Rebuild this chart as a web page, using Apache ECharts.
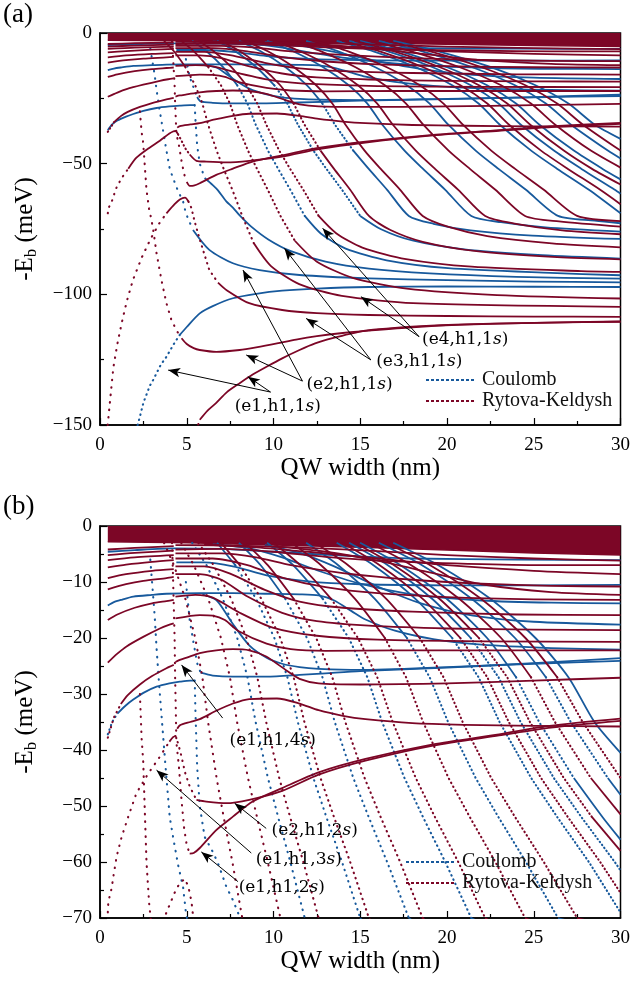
<!DOCTYPE html>
<html><head><meta charset="utf-8">
<script src="https://cdn.jsdelivr.net/npm/echarts/dist/echarts.min.js"></script>
<style>html,body{margin:0;padding:0;background:#fff}#chart{width:633px;height:981px}</style>
</head><body><div id="chart"></div>
<script>
// ---------------- DATA (QW width nm, -Eb meV) ----------------
// dense band of high states near 0
const band = [[0.45,-2.8],[5,-3.0],[10,-3.4],[15,-3.8],[20,-4.3],[25,-4.8],[30,-5.2]];

// Coulomb curves
const cE1H1_1s = [[2.1,-152],[2.17,-150],[2.3,-146.8],[2.5,-141.5],[2.87,-135],[3.06,-132.8],[3.5,-127],[3.83,-123.9],[4.3,-118.5],[4.6,-115.5],[5.0,-112.5],[5.75,-107.3],[6.5,-104.5],[7.66,-101.5],[9.0,-99.8],[10.5,-98.6],[12.5,-97.8],[15.5,-97.2],[20,-97],[25,-97.1],[30,-97.2]];
const cE2H1_1s = [[2.9,-6],[3.0,-10],[3.1,-14],[3.16,-16.5],[3.26,-21.8],[3.4,-28],[3.6,-36],[3.83,-45],[4.02,-52],[4.21,-55.5],[4.5,-60.5],[4.79,-64.5],[4.95,-69],[5.36,-75.4],[6.3,-83],[7.66,-88.1],[9.2,-90.7],[11.5,-92.6],[15.5,-93.9],[20,-94.6],[25,-95.1],[30,-95.4]];
const cLow37 = [[0.45,-37.2],[0.7,-35],[1.0,-33.5],[1.5,-32],[1.92,-31],[2.5,-29.8],[3.26,-28.7],[4.0,-28.1],[4.6,-27.8],[5.2,-27.6],[5.46,-27.6],[5.5,-33],[5.6,-43],[5.75,-50],[6.03,-55.5],[6.5,-58.2],[6.8,-60.2],[7.28,-64.4],[7.66,-66.8],[8.05,-69.8],[8.7,-74],[9.7,-79],[11,-83.5],[13,-87.5],[15.5,-90.2],[19,-92],[24,-93.3],[30,-94]];
const cFlat26 = [[4.95,-10],[5.05,-13],[5.17,-16.8],[5.4,-21],[5.6,-24.5],[5.8,-26.2],[6.5,-26.7],[7.66,-26.9],[9.6,-26.9],[11.5,-26.6],[13,-26.3],[15,-25.9],[20,-25.3],[25,-24.5],[30,-23.6]];
const cFlat12 = [[0.45,-14.2],[0.8,-13.6],[1.2,-13.2],[1.92,-12.6],[3,-12.3],[3.83,-12.1],[5.75,-12],[7.66,-12],[9.6,-12.1],[11.5,-12.2],[12.6,-12.4],[13.5,-13.3],[14.5,-15.2],[15.3,-16.7],[17,-18.7],[19.2,-20.2],[22,-21.2],[26,-21.8],[30,-22.1]];
const cDrop25 = [[5.9,-12.2],[6.7,-13.2],[7.2,-15.3],[7.66,-17.5],[8.6,-21.3],[9.6,-23.5],[10.5,-24.6],[11.5,-25.2],[12.6,-25.5],[15,-25.7],[20,-25.2],[25,-24.6],[30,-24.1]];
const cTop5 = [[0.45,-4.6],[2,-4.3],[4.3,-4.0],[7,-4.1],[10,-4.6],[14,-5.3],[18,-5.8],[24,-6.0],[30,-6.1]];
const cTop7 = [[4.4,-6.5],[6,-6.5],[7.66,-7.2],[9.6,-8.8],[12,-9.9],[15,-10.4],[20,-10.6],[25,-10.6],[30,-10.5]];
const cTop14 = [[6.5,-3.3],[8.5,-3.9],[10.5,-5.6],[12.5,-7.9],[15,-10.3],[18,-12.2],[22,-13.3],[26,-13.7],[30,-13.8]];
const cTop17 = [[9.5,-3.4],[11.5,-4.8],[13.5,-7.2],[16,-10.8],[18.5,-13.8],[21.5,-16],[25,-17.1],[30,-17.6]];
const cDesc1 = [[5.31,-3],[6.14,-7],[7.08,-13],[7.91,-20],[8.5,-27],[8.97,-35],[9.68,-45],[10.27,-52],[10.97,-60],[11.8,-70],[12.74,-76.8],[14.16,-82.5],[16.52,-87],[20.06,-90],[25.96,-91.8],[30,-92.7]];
const cDesc2 = [[6.75,-3],[7.8,-7],[9.0,-13],[10.05,-20],[10.8,-27],[11.4,-35],[12.3,-45],[13.05,-52],[13.95,-60],[15.0,-70],[16.2,-75.1],[18.0,-79.4],[21.0,-82.8],[25.5,-85.0],[30,-86.3]];
const cDesc3 = [[8.01,-3],[9.26,-7],[10.68,-13],[11.93,-20],[12.82,-27],[13.53,-35],[14.6,-45],[15.49,-52],[16.55,-60],[17.8,-70],[19.22,-73],[21.36,-75.5],[24.92,-77.5],[30,-78.8]];
const cDesc4 = [[9.63,-3],[11.13,-7],[12.84,-13],[14.34,-20],[15.41,-27],[16.26,-35],[17.55,-45],[18.62,-52],[19.9,-60],[21.4,-70],[23.11,-72.4],[25.68,-74.4],[30,-76]];
const cDesc5 = [[11.88,-3],[13.73,-7],[15.84,-13],[17.69,-20],[19.0,-27],[20.06,-35],[21.65,-45],[22.97,-52],[24.55,-60],[26.4,-70],[28.51,-71.8],[30,-72.8]];
const cDesc6 = [[13.64,-3],[15.76,-7],[18.18,-13],[20.3,-20],[21.82,-27],[23.03,-35],[24.85,-45],[26.36,-52],[28.18,-60],[30,-69]];
const cDesc7 = [[14.36,-3],[16.59,-7],[19.14,-13],[21.37,-20],[22.97,-27],[24.24,-35],[26.16,-45],[27.75,-52],[29.67,-60],[30,-61.5]];
const cDesc8 = [[14.99,-3],[17.32,-7],[19.98,-13],[22.31,-20],[23.98,-27],[25.31,-35],[27.31,-45],[28.97,-52],[30,-56]];
const cDesc9 = [[16.07,-3],[18.56,-7],[21.42,-13],[23.92,-20],[25.7,-27],[27.13,-35],[29.27,-45],[30,-48]];
const cDesc10 = [[16.9,-3],[19.5,-7],[22.5,-13],[25.1,-20],[27.0,-27],[28.5,-35],[30,-40.5]];

// Rytova-Keldysh curves
const rPeak = [[0.44,-150],[0.48,-147.5],[0.62,-138],[0.77,-128],[1.0,-119],[1.25,-111],[1.55,-102.5],[1.9,-94.5],[2.4,-86],[2.9,-79],[3.4,-73],[3.83,-69],[4.3,-65.5],[4.6,-63.7],[4.9,-63],[5.1,-64.5],[5.27,-67],[5.45,-72],[5.75,-79],[6.3,-90.7],[6.8,-95.5],[7.3,-98.4],[8.6,-103.4],[10.5,-106],[12.5,-107.2],[15.5,-107.9],[20,-108.3],[25,-108.5],[30,-108.6]];
const rE1H1_1s = [[5.55,-152],[5.75,-148],[6.2,-144.5],[6.7,-141.5],[7.3,-137.5],[8.05,-134],[8.8,-130.7],[9.6,-127.7],[10.5,-124.5],[11.5,-121.3],[12.4,-118.8],[13.4,-116.8],[14.4,-115.1],[15.5,-113.7],[17,-112.8],[18.8,-112.1],[20.5,-111.6],[22.6,-111.2],[26,-110.8],[30,-110.5]];
const rE2H1_1s = [[2.3,-30],[2.4,-38],[2.49,-42],[2.59,-51.6],[2.68,-60],[2.83,-67.3],[2.95,-71],[3.07,-75.4],[3.26,-84.3],[3.54,-94.5],[3.83,-103.4],[4.1,-109.5],[4.4,-113.7],[4.7,-116.8],[5.0,-119],[5.4,-120.6],[5.75,-121.3],[6.7,-122],[8.05,-121.3],[9,-120.3],[10.2,-118.8],[11.3,-117.3],[12.5,-116],[14,-114.8],[15.5,-113.9],[18,-112.6],[21,-111.6],[25,-110.9],[30,-110.4]];
const rE1H1_3s = [[0.45,-69],[0.48,-67.1],[0.67,-64.7],[0.77,-62.6],[0.96,-59],[1.25,-55.5],[1.63,-51.9],[2.1,-47.7],[2.78,-44.2],[3.45,-41.2],[4.0,-38.5],[4.21,-37.7],[4.35,-37.5],[4.5,-38.8],[4.7,-41.2],[4.9,-44],[5.17,-46.5],[5.56,-48.9],[6.13,-49.2],[7.28,-49.5],[8.6,-48.9],[10.5,-47.3],[12.6,-44.4],[15.3,-41.9],[19.2,-39.2],[23,-37.4],[26,-36],[30,-34.8]];
const rE1H1_2s = [[4.15,-3],[4.2,-8],[4.25,-14],[4.3,-20],[4.33,-27],[4.37,-33],[4.4,-38.5],[4.55,-43],[4.7,-49],[4.85,-54],[5.0,-57],[5.17,-58.5],[5.4,-58.4],[5.75,-57.5],[6.7,-54.3],[7.66,-51.9],[8.8,-49.2],[10.5,-46.8],[12.6,-44],[15.3,-41.6],[19.2,-39],[23,-37.2],[25.9,-35.7],[30,-34.4]];
const rE1H1_4s = [[4.35,-24.3],[4.6,-23.9],[5,-23.5],[5.75,-22.7],[6.7,-22.2],[7.66,-22],[8.6,-22.2],[9.58,-23.3],[10.7,-25.7],[11.5,-27.3],[12.6,-28.1],[15,-28.3],[20,-28.1],[25,-27.6],[30,-27.1]];
const rMid36 = [[4.45,-36.2],[4.6,-35.6],[5.2,-35],[5.75,-34.5],[6.7,-33],[7.66,-31.7],[8.6,-30.9],[10.2,-30.8],[11.5,-31.7],[12.6,-32.9],[14,-33.9],[15.3,-34.5],[18,-35.2],[21,-35.5],[25,-35.7],[30,-35.8]];
const rLeft4 = [[0.45,-4.2],[2,-3.9],[4.25,-3.6]];
const rLeft5 = [[0.45,-5.2],[2,-4.8],[4.25,-4.4]];
const rLeft6 = [[0.45,-6.1],[2,-5.6],[4.25,-5.2]];
const rLeft7 = [[0.45,-7.4],[1.5,-6.9],[3,-6.4],[4.25,-6.1]];
const rLeft9 = [[0.45,-9.3],[1.5,-8.6],[3,-8.0],[4.25,-7.7]];
const rLeft11 = [[0.45,-11.3],[1.5,-10.4],[2.5,-9.8],[3.83,-9.3],[4.25,-9.1]];
const rLeft17 = [[0.45,-16.8],[1,-15.8],[2,-14.6],[3,-13.8],[3.83,-13.4],[4.25,-13.2]];
const rLeft24 = [[0.45,-24.4],[1,-22.8],[1.53,-21.5],[2.49,-19.8],[3.45,-18.3],[3.93,-17.7],[4.25,-17.4]];
const rLeft37 = [[0.45,-37.8],[0.8,-34.2],[1.2,-31.8],[1.6,-30.2],[2.3,-28.3],[3.0,-26.8],[3.83,-25.4],[4.25,-24.8]];
const rGen3 = [[4.35,-3.4],[8,-3.5],[12,-3.9],[16,-4.5],[20,-5.2],[25,-5.8],[30,-6.2]];
const rGen3b = [[6,-3.3],[9,-3.8],[12,-4.6],[16,-5.8],[20,-7.0],[25,-8.0],[30,-8.6]];
const rGen4 = [[4.35,-4.2],[7,-4.1],[10,-4.6],[13,-5.5],[17,-6.3],[22,-6.8],[26,-7.0],[30,-7.0]];
const rGen5 = [[4.35,-4.9],[7,-4.9],[9,-5.6],[11,-7.0],[14,-8.4],[18,-9.6],[22,-10.3],[26,-10.7],[30,-10.8]];
const rGen5b = [[10,-3.6],[13,-4.6],[16,-6.2],[19,-8.3],[22,-10.4],[26,-11.8],[30,-12.3]];
const rGen6 = [[4.35,-5.8],[6.5,-5.8],[8.5,-7.0],[10.5,-9.2],[13,-10.9],[16,-12],[20,-12.7],[25,-13.1],[30,-13.2]];
const rGen7 = [[4.35,-7.2],[6,-7.2],[7.5,-8.5],[9.5,-11.4],[11.5,-13.5],[14,-14.6],[18,-15.3],[24,-15.8],[30,-15.9]];
const rGen9 = [[4.35,-8.6],[5.75,-8.6],[7,-9.6],[8.5,-12.6],[10.5,-15.5],[12.5,-17],[15.5,-17.8],[20,-18.3],[25,-18.5],[30,-18.6]];
const rGen13 = [[4.35,-12.6],[5.5,-12.3],[6.5,-12.8],[8,-15.4],[10,-18.2],[12.5,-19.6],[16,-20.3],[22,-20.6],[30,-20.7]];
const rGen17 = [[4.35,-16.5],[5.75,-15.9],[6.5,-16],[7.2,-16.8],[8,-18.8],[9.6,-21],[11,-22],[13,-22.3],[17,-22.2],[22,-22.2],[30,-22.2]];
const rDesc1 = [[3.69,-3],[4.26,-7],[4.92,-13],[5.49,-20],[5.9,-27],[6.23,-35],[6.72,-45],[7.13,-52],[7.63,-60],[8.2,-70],[8.86,-80.4],[9.84,-89.1],[11.48,-96.1],[13.94,-100.6],[18.04,-103.4],[30,-104.8]];
const rDesc2 = [[4.68,-3],[5.41,-7],[6.24,-13],[6.97,-20],[7.49,-27],[7.9,-35],[8.53,-45],[9.05,-52],[9.67,-60],[10.4,-70],[11.23,-79.5],[12.48,-87.4],[14.56,-93.7],[17.68,-97.8],[22.88,-100.3],[30,-101.6]];
const rDesc3 = [[5.67,-3],[6.55,-7],[7.56,-13],[8.44,-20],[9.07,-27],[9.58,-35],[10.33,-45],[10.96,-52],[11.72,-60],[12.6,-70],[13.61,-76.6],[15.12,-82.1],[17.64,-86.5],[21.42,-89.4],[27.72,-91.1],[30,-91.4]];
const rDesc4 = [[6.98,-3],[8.06,-7],[9.3,-13],[10.39,-20],[11.16,-27],[11.78,-35],[12.71,-45],[13.49,-52],[14.42,-60],[15.5,-70],[16.74,-75.4],[18.6,-79.9],[21.7,-83.5],[26.35,-85.8],[30,-86.6]];
const rDesc5 = [[8.37,-3],[9.67,-7],[11.16,-13],[12.46,-20],[13.39,-27],[14.14,-35],[15.25,-45],[16.18,-52],[17.3,-60],[18.6,-70],[20.09,-74.2],[22.32,-77.7],[26.04,-80.5],[30,-82]];
const rDesc6 = [[9.99,-3],[11.54,-7],[13.32,-13],[14.87,-20],[15.98,-27],[16.87,-35],[18.2,-45],[19.31,-52],[20.65,-60],[22.2,-70],[23.98,-73],[26.64,-75.5],[30,-77]];
const rDesc7 = [[11.03,-3],[12.74,-7],[14.7,-13],[16.42,-20],[17.64,-27],[18.62,-35],[20.09,-45],[21.32,-52],[22.79,-60],[24.5,-70],[26.46,-72.1],[30,-74.1]];
const rDesc8 = [[12.38,-3],[14.3,-7],[16.5,-13],[18.43,-20],[19.8,-27],[20.9,-35],[22.55,-45],[23.93,-52],[25.58,-60],[27.5,-70],[30,-72]];
const rDesc9 = [[13.95,-3],[16.12,-7],[18.6,-13],[20.77,-20],[22.32,-27],[23.56,-35],[25.42,-45],[26.97,-52],[28.83,-60],[30,-65.5]];
const rDesc10 = [[14.67,-3],[16.95,-7],[19.56,-13],[21.84,-20],[23.47,-27],[24.78,-35],[26.73,-45],[28.36,-52],[30,-58]];
const rDesc11 = [[15.53,-3],[17.94,-7],[20.7,-13],[23.12,-20],[24.84,-27],[26.22,-35],[28.29,-45],[30,-51.5]];
const rDesc12 = [[16.47,-3],[19.03,-7],[21.96,-13],[24.52,-20],[26.35,-27],[27.82,-35],[30,-45]];

const coulombCurves = [cTop5,cTop7,cTop14,cTop17,cFlat12,cDrop25,cFlat26,cLow37,cE2H1_1s,cE1H1_1s,cDesc1,cDesc2,cDesc3,cDesc4,cDesc5,cDesc6,cDesc7,cDesc8,cDesc9,cDesc10];
const rkCurves = [rLeft4,rLeft5,rLeft6,rLeft7,rLeft9,rLeft11,rLeft17,rLeft24,rLeft37,rGen3,rGen3b,rGen4,rGen5,rGen5b,rGen6,rGen7,rGen9,rGen13,rGen17,rE1H1_4s,rMid36,rE1H1_3s,rE1H1_2s,rE2H1_1s,rE1H1_1s,rPeak,rDesc1,rDesc2,rDesc3,rDesc4,rDesc5,rDesc6,rDesc7,rDesc8,rDesc9,rDesc10,rDesc11,rDesc12];

// tick / axis settings
const xTicks = {min:0, max:30, interval:5};
const yTicksA = {min:-150, max:0, interval:50};
const yTicksB = {min:-70, max:0, interval:10};

// annotations: [text, x, y] and arrows [tail, tip]
const labelsA = [['(e1,h1,1{i|s})',7.76,-143.1],['(e2,h1,1{i|s})',11.9,-134.7],['(e3,h1,1{i|s})',15.92,-125.9],['(e4,h1,1{i|s})',18.56,-117.5]];
const arrowsA = [[[9.83,-137.4],[3.93,-129.0]],[[9.83,-137.4],[8.52,-131.5]],[[11.67,-133.2],[8.24,-90.7]],[[11.67,-133.2],[8.43,-123.2]],[[15.61,-125.1],[10.63,-82.4]],[[15.61,-125.1],[11.88,-109.2]],[[18.39,-116.2],[12.83,-74.7]],[[18.39,-116.2],[15.04,-100.9]]];
const labelsB = [['(e1,h1,4{i|s})',7.47,-38.4],['(e2,h1,2{i|s})',9.89,-54.3],['(e1,h1,3{i|s})',8.97,-59.6],['(e1,h1,2{i|s})',7.99,-64.5]];
const arrowsB = [[[7.07,-34.3],[4.7,-24.8]],[[9.58,-54.0],[7.76,-49.5]],[[8.72,-58.4],[3.26,-43.6]],[[7.95,-63.5],[5.84,-58.2]]];

// ---------------- CHART ----------------
const SERIF = 'Liberation Serif';
const ANNO = 'DejaVu Serif';
const BLUE = '#17599c', RED = '#7c0626';
const PX_PER_NM = 17.4;
const panels = [{gi:0, ppm:2.613, labels:labelsA, arrows:arrowsA}, {gi:1, ppm:5.6, labels:labelsB, arrows:arrowsB}];
// dashed legend glyph (48 x 2 units)
let dashPath = 'path://';
for (let i=0;i<48;i+=5) dashPath += 'M'+i+',0h3v2h-3z';

// split a curve into solid (gentle) and dotted (steep, sparsely sampled) runs
function splitRuns(pts, ppm){
  const n = pts.length-1, slope = [], cls = [];
  for (let i=0;i<n;i++){
    const a=pts[i], b=pts[i+1];
    slope.push(Math.abs((b[1]-a[1])/(b[0]-a[0])));
    cls.push(slope[i]*ppm > 24);
  }
  for (let i=1;i<n-1;i++) if (cls[i]!==cls[i-1] && cls[i]!==cls[i+1]) cls[i]=cls[i-1];
  const runs = []; let cur = null;
  for (let i=0;i<n;i++){
    if (!cur || cur.steep !== cls[i]){ cur = {steep:cls[i], pts:[pts[i]], sum:0, k:0}; runs.push(cur); }
    cur.pts.push(pts[i+1]); cur.sum += slope[i]; cur.k++;
  }
  return runs;
}

const series = [];
panels.forEach(p=>{
  series.push({type:'line', name:'band', xAxisIndex:p.gi, yAxisIndex:p.gi, data:band, symbol:'none',
    lineStyle:{color:RED,width:1.5}, areaStyle:{color:RED,opacity:1,origin:'end'}, z:1, silent:true, animation:false});
  const add = (list, name, color, z)=>{
    list.forEach(pts=>{
      splitRuns(pts, p.ppm).forEach(run=>{
        const s = run.sum/run.k;
        let ls;
        if (run.steep){
          const spacing = Math.min(7, 0.1*Math.hypot(PX_PER_NM, s*p.ppm));
          ls = {color, width:2.1, type:[0.5, Math.max(1.8, spacing)], cap:'round'};
        } else ls = {color, width:1.8, type:'solid', join:'round'};
        series.push({type:'line', name, xAxisIndex:p.gi, yAxisIndex:p.gi, data:run.pts, symbol:'none',
          smooth: run.steep ? false : 0.25, lineStyle:ls, itemStyle:{color}, z, silent:true, animation:false, clip:true});
      });
    });
  };
  add(coulombCurves, 'Coulomb', BLUE, 2);
  add(rkCurves, 'Rytova-Keldysh', RED, 3);
  series.push({type:'scatter', name:'anno', xAxisIndex:p.gi, yAxisIndex:p.gi, symbolSize:0, z:20, silent:true, animation:false,
    itemStyle:{opacity:1},
    data: p.labels.map(l=>({value:[l[1],l[2]], label:{formatter:l[0]}})),
    label:{show:true, position:'right', distance:0, fontFamily:ANNO, fontSize:17, color:'#000', opacity:1,
      rich:{i:{fontStyle:'italic', fontFamily:ANNO, fontSize:17, color:'#000'}}},
    markLine:{silent:true, animation:false, symbol:['none','arrow'], symbolSize:[7,12], precision:3,
      lineStyle:{color:'#000', width:1, type:'solid', opacity:1}, label:{show:false},
      data: p.arrows.map(a=>[{coord:a[0]},{coord:a[1]}])}
  });
});

function xAxis(gi){
  return {type:'value', gridIndex:gi, min:xTicks.min, max:xTicks.max, interval:xTicks.interval,
    name:'QW width (nm)', nameLocation:'middle', nameGap:25,
    nameTextStyle:{fontFamily:SERIF, fontSize:25, color:'#000'},
    axisLine:{onZero:false, lineStyle:{color:'#000', width:1.5}},
    axisTick:{inside:true, length:7, lineStyle:{color:'#000', width:1.2}},
    minorTick:{show:true, splitNumber:2, length:4, lineStyle:{color:'#000', width:1.2}},
    splitLine:{show:false}, minorSplitLine:{show:false},
    axisLabel:{fontFamily:SERIF, fontSize:19, color:'#000', margin:11}};
}
function yAxis(gi, t){
  return {type:'value', gridIndex:gi, min:t.min, max:t.max, interval:t.interval,
    name:'-E{sub|b} (meV)', nameLocation:'middle', nameGap:60,
    nameTextStyle:{fontFamily:SERIF, fontSize:25, color:'#000',
      rich:{sub:{fontFamily:SERIF, fontSize:17, color:'#000', padding:[12,0,0,0]}}},
    axisLine:{onZero:false, lineStyle:{color:'#000', width:1.5}},
    axisTick:{inside:true, length:7, lineStyle:{color:'#000', width:1.2}},
    minorTick:{show:true, splitNumber:2, length:4, lineStyle:{color:'#000', width:1.2}},
    splitLine:{show:false}, minorSplitLine:{show:false},
    axisLabel:{fontFamily:SERIF, fontSize:19, color:'#000', margin:8,
      formatter:v=> v<0 ? '\u2212'+(-v) : String(v)}};
}
function legend(left, top){
  return {data:[{name:'Coulomb', icon:dashPath},{name:'Rytova-Keldysh', icon:dashPath}], orient:'vertical', left, top,
    itemWidth:48, itemHeight:2, itemGap:1, selectedMode:false, padding:0,
    textStyle:{fontFamily:SERIF, fontSize:20, color:'#111', padding:[0,0,0,3]}};
}

const option = {
  backgroundColor:'#fff', animation:false,
  title:[
    {text:'(a)', left:3, top:1, padding:0, textStyle:{fontFamily:SERIF, fontSize:27, fontWeight:'normal', color:'#000'}},
    {text:'(b)', left:3, top:493, padding:0, textStyle:{fontFamily:SERIF, fontSize:27, fontWeight:'normal', color:'#000'}}
  ],
  grid:[
    {left:100, top:33, width:522, height:392, show:true, borderColor:'#000', borderWidth:1.5, backgroundColor:'transparent'},
    {left:100, top:526, width:522, height:392, show:true, borderColor:'#000', borderWidth:1.5, backgroundColor:'transparent'}
  ],
  xAxis:[xAxis(0), xAxis(1)],
  yAxis:[yAxis(0, yTicksA), yAxis(1, yTicksB)],
  legend:[legend(426, 370), legend(406, 852)],
  series
};
const chart = echarts.init(document.getElementById('chart'), null, {renderer:'canvas'});
chart.setOption(option);
</script></body></html>
